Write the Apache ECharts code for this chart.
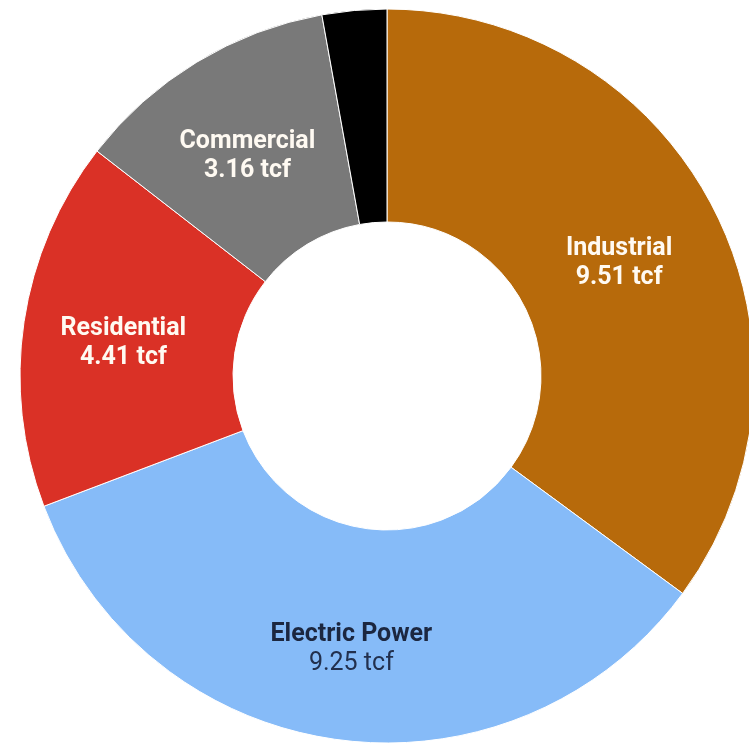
<!DOCTYPE html>
<html>
<head>
<meta charset="utf-8">
<script src="https://cdn.jsdelivr.net/npm/echarts@6/dist/echarts.min.js"></script>
<style>html,body{margin:0;padding:0;background:#fff}#c{width:749px;height:751px}</style>
</head>
<body>
<div id="c"></div>
<script>
const categories = ['Industrial', 'Electric Power', 'Residential', 'Commercial', 'Other'];
const values = [9.51, 9.25, 4.41, 3.16, 0.77];
const colors = ['#B76A0B', '#86BBF8', '#DA3126', '#797979', '#000000'];
const showLabel = [true, true, true, true, false];
const labelStyles = ['light', 'dark', 'light', 'light', 'light'];

const chart = echarts.init(document.getElementById('c'));
const data = categories.map((name, i) => ({
  name, value: values[i],
  itemStyle: { color: colors[i] },
  label: {
    show: showLabel[i],
    offset: labelStyles[i] === 'dark' ? [0, 12] : [-3, 6],
    formatter: labelStyles[i] === 'dark'
      ? '{dt|{b}}\n{dv|{c} tcf}'
      : '{lt|{b}}\n{lv|{c} tcf}'
  }
}));
chart.setOption({
  animation: false,
  series: [{
    type: 'pie',
    center: [387, 376],
    radius: [154, 367],
    startAngle: 90,
    clockwise: true,
    avoidLabelOverlap: false,
    itemStyle: { borderColor: '#ffffff', borderWidth: 1 },
    label: {
      position: 'inside',
      fontFamily: 'Roboto',
      rich: {
        lt: { color: '#fffaf2', fontSize: 25, fontWeight: 'bold', fontFamily: 'Roboto', lineHeight: 29, align: 'center' },
        lv: { color: '#fffaf2', fontSize: 25, fontWeight: 'bold', fontFamily: 'Roboto', lineHeight: 29, align: 'center' },
        dt: { color: '#1c2740', fontSize: 25, fontWeight: 'bold', fontFamily: 'Roboto', lineHeight: 29, align: 'center' },
        dv: { color: '#22304e', fontSize: 25, fontWeight: 'normal', fontFamily: 'Roboto', lineHeight: 29, align: 'center' }
      }
    },
    labelLine: { show: false },
    emphasis: { disabled: true },
    data
  }]
});
</script>
</body>
</html>
